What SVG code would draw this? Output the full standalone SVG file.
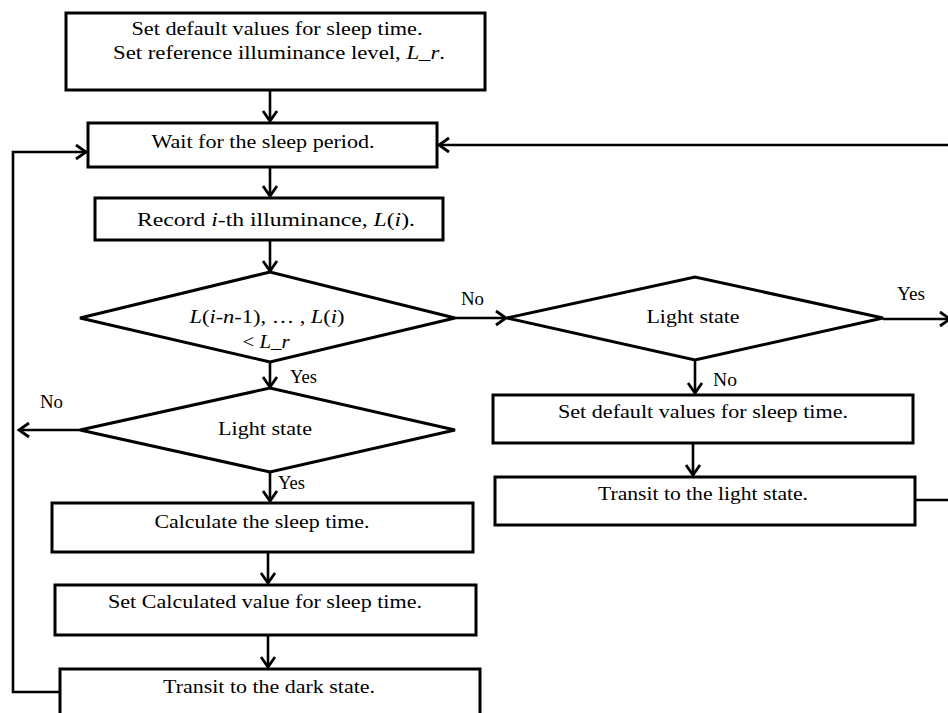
<svg xmlns="http://www.w3.org/2000/svg" width="948" height="713" viewBox="0 0 948 713">
<style>
.n{fill:#fff;stroke:#000;stroke-width:3}
.c{fill:none;stroke:#000;stroke-width:2.6}
text{font-family:"Liberation Serif","Times New Roman",serif;font-size:19px;fill:#000}
.m{text-anchor:middle}
.i{font-style:italic}
</style>
<defs>
<marker id="a" markerWidth="16" markerHeight="16" refX="10" refY="7" orient="auto" markerUnits="userSpaceOnUse" overflow="visible">
<path d="M0,0 L10,7 L0,14" fill="none" stroke="#000" stroke-width="2.8"/>
</marker>
</defs>
<rect width="948" height="713" fill="#fff"/>
<g id="connectors">
<path class="c" d="M270,90 V121" marker-end="url(#a)"/>
<path class="c" d="M270,167 V196" marker-end="url(#a)"/>
<path class="c" d="M270,240 V271" marker-end="url(#a)"/>
<path class="c" d="M270,362 V387" marker-end="url(#a)"/>
<path class="c" d="M270,472 V501" marker-end="url(#a)"/>
<path class="c" d="M268,552 V583" marker-end="url(#a)"/>
<path class="c" d="M268,635 V667" marker-end="url(#a)"/>
<path class="c" d="M455,318 H506" marker-end="url(#a)"/>
<path class="c" d="M883,319 H950" marker-end="url(#a)"/>
<path class="c" d="M695,360 V393" marker-end="url(#a)"/>
<path class="c" d="M693,443 V475" marker-end="url(#a)"/>
<path class="c" d="M80,430 H19" marker-end="url(#a)"/>
<path class="c" d="M60,692 H13 V152 H86" marker-end="url(#a)"/>
<path class="c" d="M915,500 H965 V145 H439" marker-end="url(#a)"/>
</g>
<g id="start">
<rect class="n" x="66" y="13" width="419" height="77"/>
<text class="m" x="277" y="35" textLength="291" lengthAdjust="spacingAndGlyphs">Set default values for sleep time.</text>
<text class="m" x="279" y="59" textLength="332" lengthAdjust="spacingAndGlyphs">Set reference illuminance level, <tspan class="i">L_r</tspan>.</text>
</g>
<g id="wait">
<rect class="n" x="88" y="123" width="349" height="44"/>
<text class="m" x="263" y="148" textLength="223" lengthAdjust="spacingAndGlyphs">Wait for the sleep period.</text>
</g>
<g id="record">
<rect class="n" x="95" y="198" width="348" height="42"/>
<text class="m" x="276" y="226" textLength="278" lengthAdjust="spacingAndGlyphs">Record <tspan class="i">i</tspan>-th illuminance, <tspan class="i">L</tspan>(<tspan class="i">i</tspan>).</text>
</g>
<g id="check">
<polygon class="n" points="80,318 270,272 455,318 270,362"/>
<text class="m" x="267" y="323" textLength="155" lengthAdjust="spacingAndGlyphs"><tspan class="i">L</tspan>(<tspan class="i">i</tspan>-<tspan class="i">n</tspan>-1), … , <tspan class="i">L</tspan>(<tspan class="i">i</tspan>)</text>
<text class="m" x="266" y="348" textLength="47" lengthAdjust="spacingAndGlyphs">&lt; <tspan class="i">L_r</tspan></text>
</g>
<g id="light1">
<polygon class="n" points="80,430 270,388 455,430 270,472"/>
<text class="m" x="265" y="435" textLength="94" lengthAdjust="spacingAndGlyphs">Light state</text>
</g>
<g id="calc">
<rect class="n" x="52" y="503" width="421" height="49"/>
<text class="m" x="262" y="528" textLength="215" lengthAdjust="spacingAndGlyphs">Calculate the sleep time.</text>
</g>
<g id="setcalc">
<rect class="n" x="55" y="585" width="421" height="50"/>
<text class="m" x="265" y="608" textLength="314" lengthAdjust="spacingAndGlyphs">Set Calculated value for sleep time.</text>
</g>
<g id="dark">
<rect class="n" x="60" y="669" width="420" height="60"/>
<text class="m" x="269" y="693" textLength="212" lengthAdjust="spacingAndGlyphs">Transit to the dark state.</text>
</g>
<g id="light2">
<polygon class="n" points="507,318 695,277 883,318 695,360"/>
<text class="m" x="693" y="323" textLength="93" lengthAdjust="spacingAndGlyphs">Light state</text>
</g>
<g id="setdefault">
<rect class="n" x="493" y="395" width="420" height="48"/>
<text class="m" x="703" y="418" textLength="290" lengthAdjust="spacingAndGlyphs">Set default values for sleep time.</text>
</g>
<g id="transitlight">
<rect class="n" x="495" y="477" width="420" height="48"/>
<text class="m" x="703" y="500" textLength="210" lengthAdjust="spacingAndGlyphs">Transit to the light state.</text>
</g>
<g id="labels">
<text x="290" y="383" textLength="27" lengthAdjust="spacingAndGlyphs">Yes</text>
<text x="40" y="408" textLength="23" lengthAdjust="spacingAndGlyphs">No</text>
<text x="278" y="489" textLength="27" lengthAdjust="spacingAndGlyphs">Yes</text>
<text x="461" y="305" textLength="23" lengthAdjust="spacingAndGlyphs">No</text>
<text x="897" y="300" textLength="28" lengthAdjust="spacingAndGlyphs">Yes</text>
<text x="713" y="386" textLength="24" lengthAdjust="spacingAndGlyphs">No</text>
</g>
</svg>
